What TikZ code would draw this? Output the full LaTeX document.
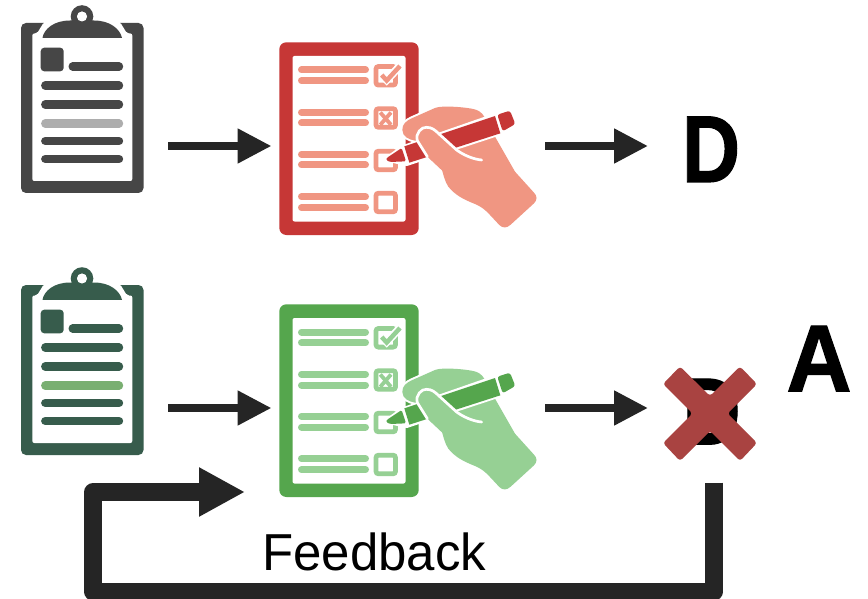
\documentclass[tikz,border=0pt]{standalone}
\usepackage{fontspec}
\setmainfont{Liberation Sans}
\usetikzlibrary{arrows.meta}
\definecolor{clipGray}{HTML}{464646}
\definecolor{clipGrayL}{HTML}{ADADAD}
\definecolor{clipGreen}{HTML}{375C4C}
\definecolor{clipGreenL}{HTML}{79AF71}
\definecolor{listRed}{HTML}{C63736}
\definecolor{listRedL}{HTML}{F09682}
\definecolor{listGreen}{HTML}{55A64D}
\definecolor{listGreenL}{HTML}{96D094}
\definecolor{crossRed}{HTML}{A94341}
\definecolor{ink}{HTML}{252525}
\tikzset{
  bar/.style={line width=8.4pt,line cap=round},
  flow/.style={draw=ink,line width=8pt,-{Triangle[length=34pt,width=33pt]}},
  feedbackflow/.style={draw=ink,line width=18pt,line join=round,-{Triangle[length=46pt,width=46pt]}},
  slot/.style={minimum width=#1,inner sep=0pt,outer sep=0pt},
  bigletter/.style={font=\fontsize{95}{95}\selectfont\bfseries\addfontfeature{FakeBold=1.2},inner sep=0pt,anchor=base,text=black},
}
% clipboard: #1 vertical shift, #2 dark, #3 light
\newcommand\clipicon[3]{%
\begin{scope}[shift={(0,#1)}]
  \fill[#2,rounded corners=5pt] (21,23) rectangle (143.5,193);
  \fill[white,rounded corners=2pt] (32.3,181) -- (32.3,33.5) -- (37,33.5) -- (44,22) -- (120,22) -- (127,33.5) -- (132.3,33.5) -- (132.3,181) -- cycle;
  \fill[white] (44,10) rectangle (120,24);
  \fill[#2,even odd rule] (82,16.5) circle (11.3) (82,16.5) circle (5);
  \fill[#2] (42.5,37.8) .. controls (44,29) and (54,20.5) .. (70,20.5) -- (94,20.5) .. controls (110,20.5) and (120,29) .. (122,37.8) -- cycle;
  \fill[white] (82,16.5) circle (5);
  \fill[#2,rounded corners=3.5pt] (40.7,47.7) rectangle (63.7,71.3);
  \draw[#2,bar] (72.7,66.5) -- (119,66.5);
  \foreach \yy in {85.5,104.5,141,159}{\draw[#2,bar] (45.3,\yy) -- (119,\yy);}
  \draw[#3,bar] (45.3,123.5) -- (119,123.5);
\end{scope}}
% checklist with hand: #1 vertical shift, #2 dark, #3 light
\newcommand\listicon[3]{%
\begin{scope}[shift={(0,#1)}]
  \fill[#2,rounded corners=7pt] (279.3,42.3) rectangle (418.7,235);
  \fill[white,rounded corners=2pt] (292.5,56) rectangle (405.5,221.5);
  \foreach \ya/\yb in {70/80.7,112.3/123,154.3/165,196.7/207.7}{
    \draw[#3,line width=7pt,line cap=round] (301.5,\ya) -- (365.5,\ya);
    \draw[#3,line width=7pt,line cap=round] (301.5,\yb) -- (365.5,\yb);
  }
  \foreach \yt in {66.5,108.7,151.2,193.2}{
    \draw[#3,line width=4.8pt,rounded corners=2.5pt] (376,\yt) rectangle (395.5,\yt+18.6);
  }
  \draw[white,line width=8pt] (381.7,75) -- (386.7,80) -- (400,66);
  \draw[#3,line width=4.5pt] (381.7,75) -- (386.7,80.5) -- (400,66);
  \draw[#3,line width=3.8pt] (380.3,112.5) -- (391,124.8) (391,112.5) -- (380.3,124.8);
  \begin{scope}[shift={(380,100)},x=0.33333pt,y=-0.33333pt]
    % hand
    \path[fill=#3,preaction={draw=white,line width=4pt}]
      (67,90) .. controls (66,72) and (80,62) .. (95,55) -- (165,24)
      .. controls (185,15) and (270,22) .. (290,30)
      .. controls (305,36) and (310,45) .. (320,62) -- (345,110) -- (405,215) -- (462,278)
      .. controls (472,288) and (472,300) .. (462,310) -- (392,374)
      .. controls (380,385) and (368,385) .. (358,375) -- (330,345)
      .. controls (315,328) and (300,318) .. (285,312)
      .. controls (250,298) and (225,285) .. (205,260)
      .. controls (195,245) and (190,225) .. (185,205) -- (140,168) -- (105,122)
      .. controls (85,118) and (68,110) .. (67,90) -- cycle;
    % pencil
    \fill[white,draw=white,line width=4pt,line join=round] (18,178) -- (65,143) -- (350,44) -- (388,32) -- (406,72) -- (366,98) -- (80,192) -- cycle;
    \fill[#2,rounded corners=1.5pt] (18,180) -- (20,174) -- (65,144) -- (78,184) -- (30,186) -- cycle;
    \fill[#2] (73,139) -- (345,48) -- (361,100) -- (88,188) -- cycle;
    \fill[#2,rounded corners=2.5pt] (352,44) -- (390,32) -- (406,72) -- (368,94) -- cycle;
    % thumb
    \fill[#3] (190,215) -- (140,168) -- (112,122) .. controls (105,100) and (125,80) .. (140,82)
      .. controls (155,82) and (165,90) .. (175,100) -- (230,150)
      .. controls (250,165) and (280,178) .. (305,180) -- (300,230) -- (210,260) -- cycle;
    \draw[white,line width=2.7pt,line cap=round] (142,170) -- (112,122) .. controls (105,100) and (125,80) .. (140,82)
      .. controls (155,82) and (165,90) .. (175,100) -- (230,150)
      .. controls (250,165) and (280,178) .. (305,180);
  \end{scope}
\end{scope}}
\begin{document}
\begin{tikzpicture}[x=1pt,y=-1pt]
  \useasboundingbox (0,0) rectangle (868,599);
  \clip (0,0) rectangle (868,599);
  \fill[white] (0,0) rectangle (868,599);
  \clipicon{0}{clipGray}{clipGrayL}
  \clipicon{262}{clipGreen}{clipGreenL}
  \listicon{0}{listRed}{listRedL}
  \listicon{262}{listGreen}{listGreenL}
  % anchors for connectors
  \node[slot=122.5pt] (clipA) at (82.25,146) {};
  \node[slot=122.5pt] (clipB) at (82.25,408) {};
  \node[slot=257.7pt] (listA) at (408.15,146) {};
  \node[slot=257.7pt] (listB) at (408.15,408) {};
  \coordinate (fbStart) at (713.5,482.7);
  \coordinate (fbEnd) at (245,492);
  \coordinate (tipA) at (648,146);
  \coordinate (tipB) at (648,408);
  % letters
  \node[bigletter,xscale=0.85] (gradeD) at (711,182) {D};
  \node[bigletter,xscale=0.85] (gradeHidden) at (711.5,444.3) {D};
  \node[bigletter,xscale=0.95] (gradeA) at (819,391.3) {A};
  \node[inner sep=0pt,anchor=base west,xscale=0.98,font=\fontsize{52}{52}\selectfont] (fbText) at (262,570.8) {Feedback};
  % cross over the hidden letter
  \fill[crossRed,rounded corners=3pt] (680,366.5) -- (710,396) -- (740,366.5) -- (757,384) -- (727.5,413.5) -- (757,443) -- (740,461) -- (710,431) -- (680,461) -- (663,443) -- (692.5,413.5) -- (663,384) -- cycle;
  % connectors
  \draw[flow,shorten <=24.5pt,shorten >=7.8pt] (clipA.east) -- (listA.west);
  \draw[flow,shorten <=24.5pt,shorten >=7.8pt] (clipB.east) -- (listB.west);
  \draw[flow,shorten <=8pt] (listA.east) -- (tipA);
  \draw[flow,shorten <=8pt] (listB.east) -- (tipB);
  \draw[feedbackflow] (fbStart) -- (713.5,591.5) -- (93.4,591.5) -- (93.4,492) -- (fbEnd);
\end{tikzpicture}
\end{document}
